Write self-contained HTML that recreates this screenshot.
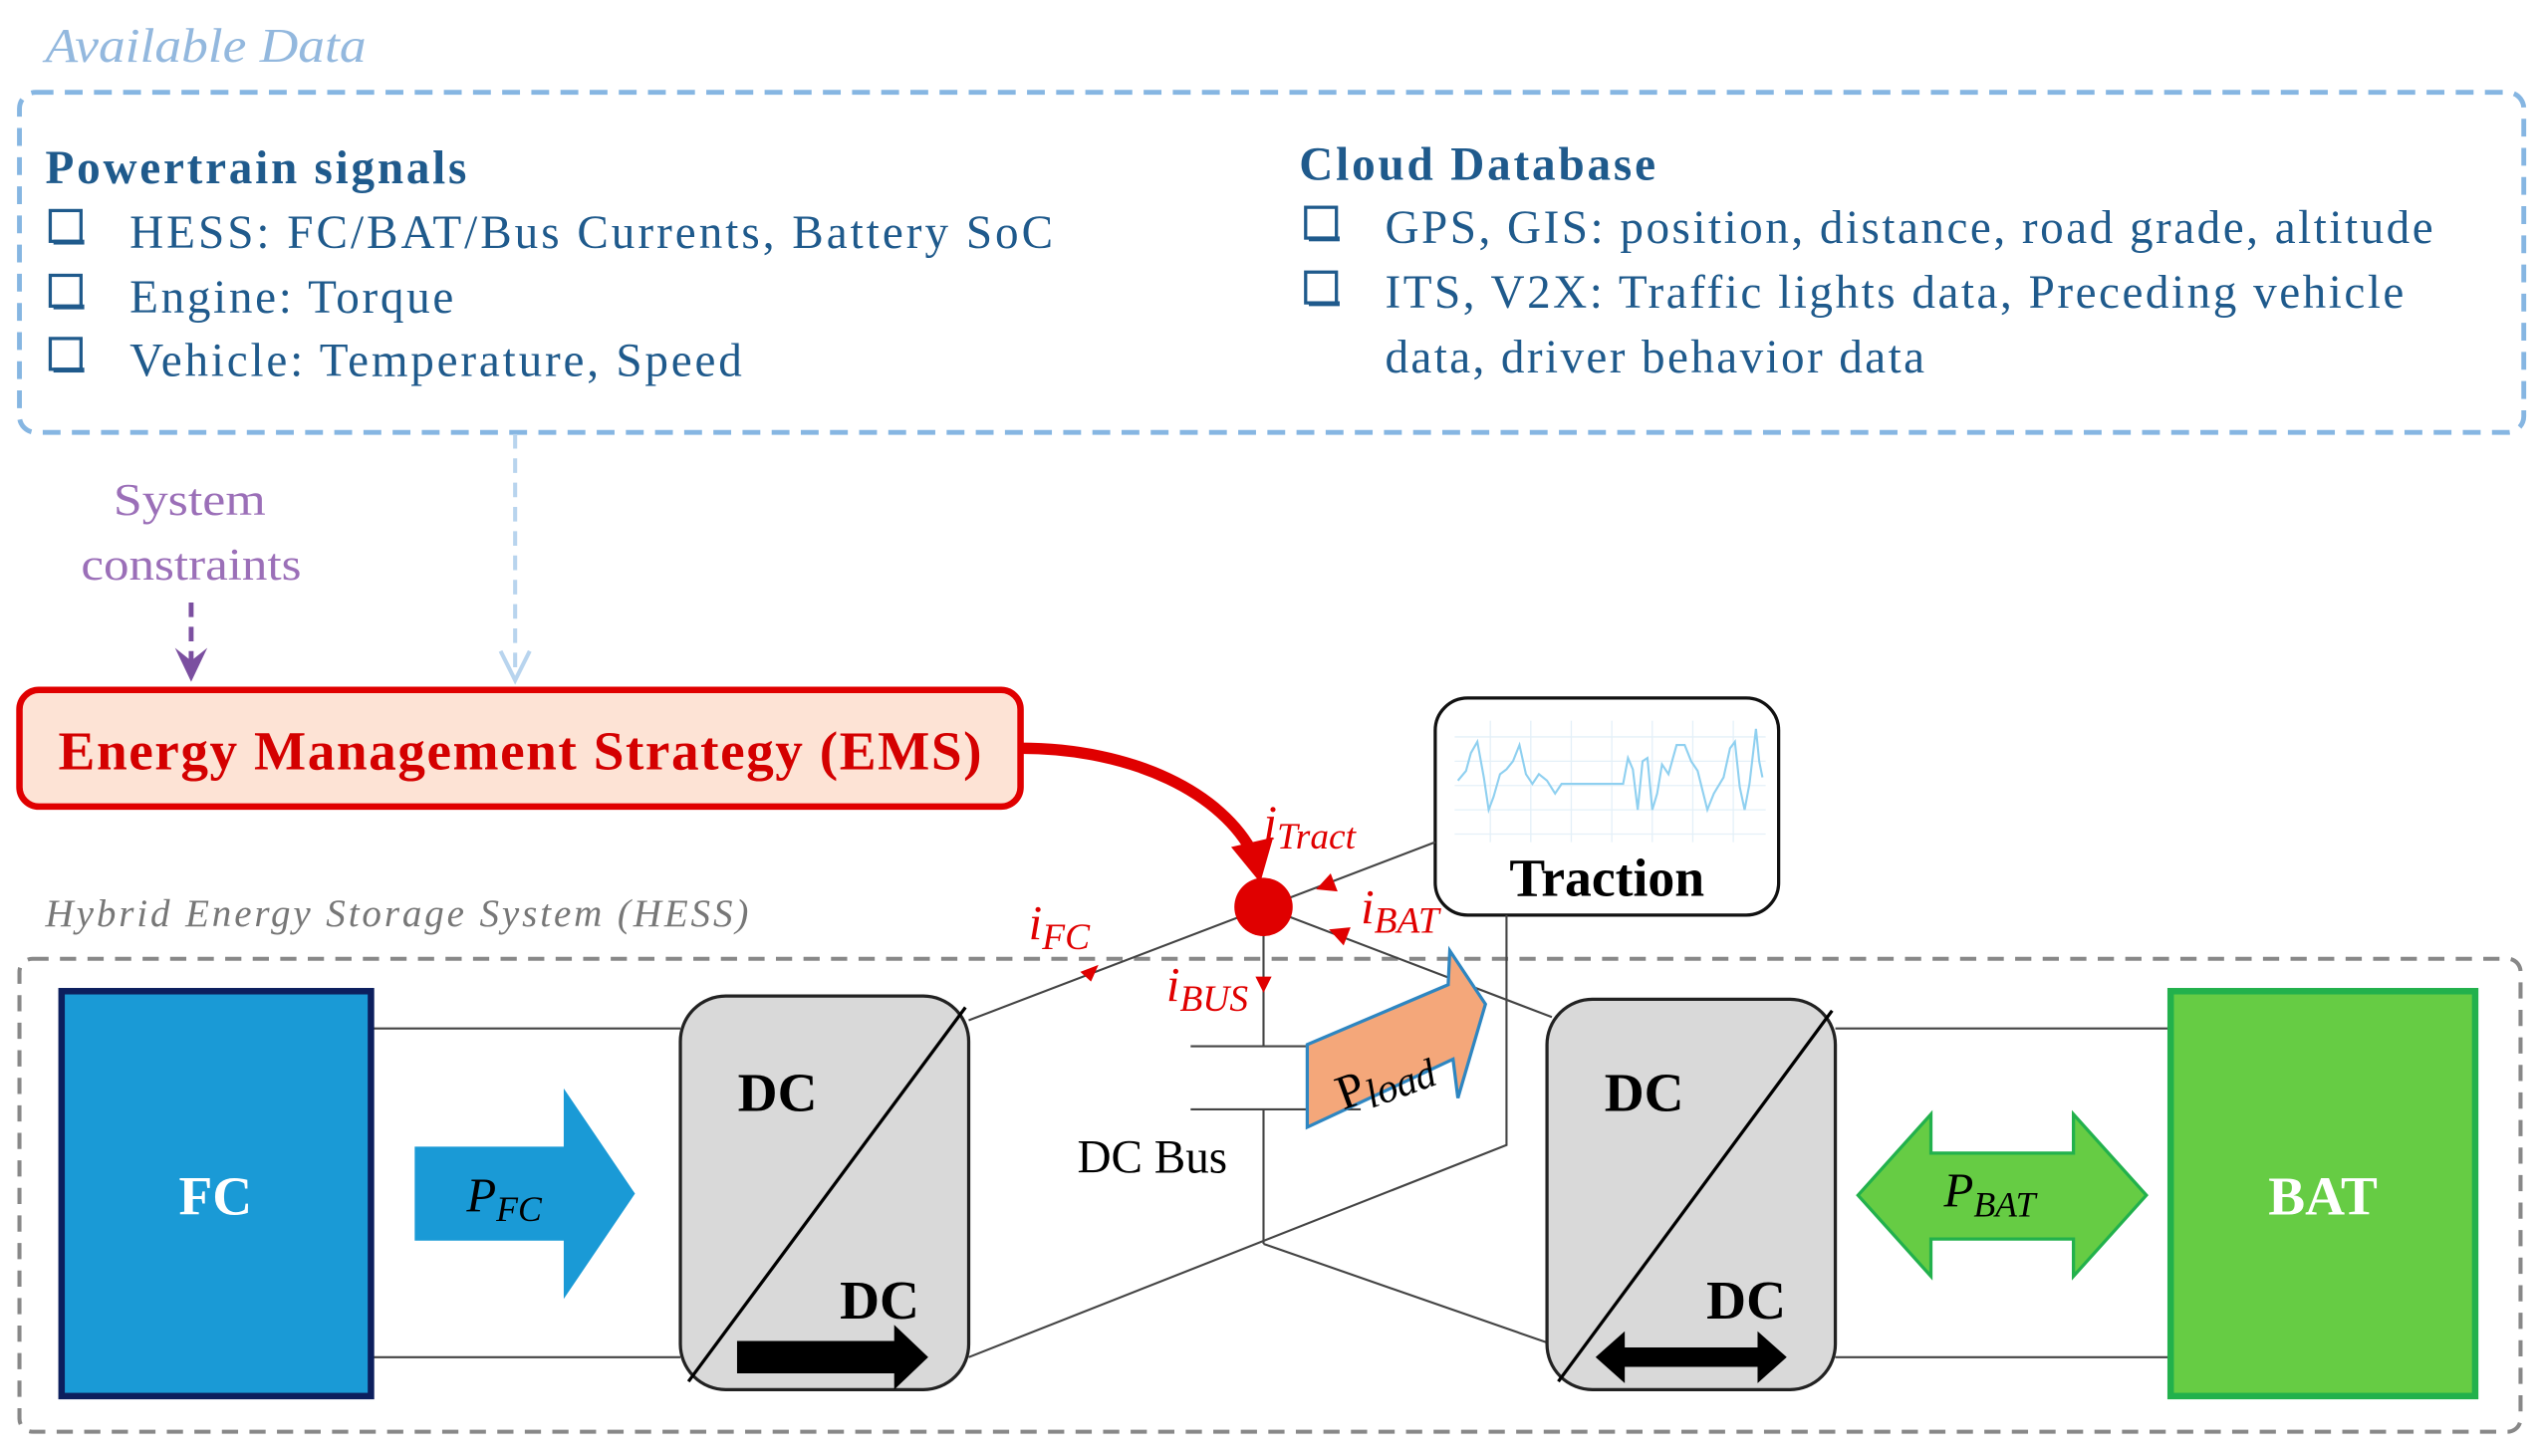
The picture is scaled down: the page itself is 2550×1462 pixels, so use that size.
<!DOCTYPE html>
<html><head><meta charset="utf-8"><style>html,body{margin:0;padding:0;background:#fff}svg{display:block}</style></head>
<body>
<svg width="2550" height="1462" viewBox="0 0 1568 899" xmlns="http://www.w3.org/2000/svg" font-family="Liberation Serif, serif">
<text x="28" y="38" font-size="30" font-style="italic" fill="#93b8de" textLength="198" lengthAdjust="spacingAndGlyphs">Available Data</text>
<rect x="12" y="57" width="1546" height="210" rx="10" fill="none" stroke="#86b6e2" stroke-width="3" stroke-dasharray="11,7"/>
<g fill="#1f5a8c" font-size="29">
<text x="28" y="113" font-weight="bold" textLength="260" lengthAdjust="spacing">Powertrain signals</text>
<text x="80" y="153" textLength="570" lengthAdjust="spacing">HESS: FC/BAT/Bus Currents, Battery SoC</text>
<text x="80" y="193" textLength="200" lengthAdjust="spacing">Engine: Torque</text>
<text x="80" y="232" textLength="378" lengthAdjust="spacing">Vehicle: Temperature, Speed</text>
<text x="802" y="111" font-weight="bold" textLength="220" lengthAdjust="spacing">Cloud Database</text>
<text x="855" y="150" textLength="647" lengthAdjust="spacing">GPS, GIS: position, distance, road grade, altitude</text>
<text x="855" y="190" textLength="629" lengthAdjust="spacing">ITS, V2X: Traffic lights data, Preceding vehicle</text>
<text x="855" y="230" textLength="333" lengthAdjust="spacing">data, driver behavior data</text>
</g>
<g fill="none" stroke="#1f5a8c" stroke-width="2">
<rect x="31" y="130" width="19" height="19"/><rect x="31" y="170" width="19" height="19"/><rect x="31" y="209" width="19" height="19"/>
<rect x="806" y="128" width="19" height="19"/><rect x="806" y="168" width="19" height="19"/>
</g>
<g fill="#1f5a8c"><rect x="33" y="148" width="19" height="3"/><rect x="33" y="188" width="19" height="3"/><rect x="33" y="227" width="19" height="3"/><rect x="808" y="146" width="19" height="3"/><rect x="808" y="186" width="19" height="3"/></g>
<line x1="318" y1="268" x2="318" y2="418" stroke="#b8d4ee" stroke-width="2.5" stroke-dasharray="9,6"/>
<path d="M309,402 L318,420 L327,402" fill="none" stroke="#b8d4ee" stroke-width="2.5"/>
<text x="70" y="318" font-size="28" fill="#9b6fb8" textLength="94" lengthAdjust="spacingAndGlyphs">System</text>
<text x="50" y="358" font-size="28" fill="#9b6fb8" textLength="136" lengthAdjust="spacingAndGlyphs">constraints</text>
<line x1="118" y1="372" x2="118" y2="415" stroke="#7b4fa0" stroke-width="3" stroke-dasharray="9,6"/>
<path d="M108,400 L118,421 L128,400 L118,408 Z" fill="#7b4fa0"/>
<rect x="12" y="426" width="618" height="72" rx="12" fill="#fde3d5" stroke="#e00000" stroke-width="4"/>
<text x="36" y="475" font-size="34" font-weight="bold" fill="#d40000" textLength="570" lengthAdjust="spacing">Energy Management Strategy (EMS)</text>
<path d="M630,462 C700,462 755,490 774,528" fill="none" stroke="#e00000" stroke-width="7"/>
<path d="M760,523 L778,545 L786,517 Z" fill="#e00000"/>
<text x="28" y="572" font-size="24" font-style="italic" fill="#777" textLength="434" lengthAdjust="spacing">Hybrid Energy Storage System (HESS)</text>
<rect x="12" y="592" width="1544" height="292" rx="8" fill="none" stroke="#888" stroke-width="2.5" stroke-dasharray="10,7"/>
<rect x="886" y="431" width="212" height="134" rx="20" fill="#fff" stroke="#111" stroke-width="2"/>
<g stroke="#e4f0f8" stroke-width="0.8">
<line x1="898" y1="455" x2="1090" y2="455"/><line x1="898" y1="470" x2="1090" y2="470"/><line x1="898" y1="485" x2="1090" y2="485"/><line x1="898" y1="500" x2="1090" y2="500"/><line x1="898" y1="515" x2="1090" y2="515"/>
<line x1="920" y1="445" x2="920" y2="520"/><line x1="945" y1="445" x2="945" y2="520"/><line x1="970" y1="445" x2="970" y2="520"/><line x1="995" y1="445" x2="995" y2="520"/><line x1="1020" y1="445" x2="1020" y2="520"/><line x1="1045" y1="445" x2="1045" y2="520"/><line x1="1070" y1="445" x2="1070" y2="520"/>
</g>
<polyline fill="none" stroke="#8fd0f0" stroke-width="1.3" points="900,482 905,476 908,465 912,458 916,480 919,500 922,492 926,478 930,475 934,470 938,460 942,478 946,484 950,478 955,482 960,490 964,484 1002,484 1005,468 1008,475 1011,500 1014,470 1017,468 1020,500 1023,490 1026,472 1030,478 1035,460 1040,460 1044,470 1048,476 1051,488 1054,500 1058,490 1064,480 1068,462 1071,458 1074,486 1077,500 1080,484 1084,450 1086,470 1088,480"/>
<text x="992" y="553" font-size="33" font-weight="bold" fill="#000" text-anchor="middle">Traction</text>
<g stroke="#444" stroke-width="1.3" fill="none">
<line x1="229" y1="635" x2="420" y2="635"/><line x1="229" y1="838" x2="420" y2="838"/>
<line x1="1133" y1="635" x2="1340" y2="635"/><line x1="1133" y1="838" x2="1340" y2="838"/>
<line x1="598" y1="630" x2="886" y2="520"/>
<line x1="780" y1="560" x2="958" y2="628"/>
<line x1="780" y1="560" x2="780" y2="646"/><line x1="780" y1="685" x2="780" y2="768"/>
<line x1="735" y1="646" x2="840" y2="646"/><line x1="735" y1="685" x2="840" y2="685"/>
<polyline points="930,565 930,707 598,838"/>
<line x1="780" y1="768" x2="958" y2="830"/>
</g>
<g stroke="none" fill="#e00000">
<path d="M668,598 L680,598 L672,606 Z" transform="rotate(-21 673 602)"/>
<path d="M812,547 L824,541 L824,553 Z" transform="rotate(-21 818 547)"/>
<path d="M820,576 L832,570 L832,582 Z" transform="rotate(21 826 576)"/>
<path d="M775,603 L785,603 L780,613 Z"/>
</g>
<circle cx="780" cy="560" r="18" fill="#e00000"/>
<g fill="#e00000" font-style="italic" font-size="30">
<text x="780" y="518">i<tspan font-size="23" dy="6">Tract</tspan></text>
<text x="635" y="580">i<tspan font-size="23" dy="6">FC</tspan></text>
<text x="840" y="570">i<tspan font-size="23" dy="6">BAT</tspan></text>
<text x="720" y="618">i<tspan font-size="23" dy="6">BUS</tspan></text>
</g>
<text x="665" y="724" font-size="29" fill="#000">DC Bus</text>
<polygon points="807,645 894,608 895,587 917,620 900,678 897,654 807,696" fill="#f4a77a" stroke="#2e86c1" stroke-width="2"/>
<text x="822" y="675" font-size="30" fill="#000" transform="rotate(-20 855 660)">P<tspan font-size="25" font-style="italic" dy="5">load</tspan></text>
<rect x="38" y="612" width="191" height="250" fill="#1a9ad6" stroke="#0c1f5e" stroke-width="4"/>
<text x="133" y="750" font-size="34" font-weight="bold" fill="#fff" text-anchor="middle">FC</text>
<polygon points="256,708 348,708 348,672 392,737 348,802 348,766 256,766" fill="#1a9ad6"/>
<text x="288" y="748" font-size="30" font-style="italic" fill="#000">P<tspan font-size="22" dy="6">FC</tspan></text>
<rect x="420" y="615" width="178" height="243" rx="28" fill="#d9d9d9" stroke="#222" stroke-width="2"/>
<line x1="596" y1="622" x2="425" y2="853" stroke="#000" stroke-width="2"/>
<text x="480" y="686" font-size="34" font-weight="bold" text-anchor="middle">DC</text>
<text x="543" y="814" font-size="34" font-weight="bold" text-anchor="middle">DC</text>
<polygon points="455,828 552,828 552,818 573,838 552,858 552,848 455,848" fill="#000"/>
<rect x="955" y="617" width="178" height="241" rx="28" fill="#d9d9d9" stroke="#222" stroke-width="2"/>
<line x1="1131" y1="624" x2="962" y2="853" stroke="#000" stroke-width="2"/>
<text x="1015" y="686" font-size="34" font-weight="bold" text-anchor="middle">DC</text>
<text x="1078" y="814" font-size="34" font-weight="bold" text-anchor="middle">DC</text>
<polygon points="985,838 1003,822 1003,832 1085,832 1085,822 1103,838 1085,854 1085,844 1003,844 1003,854" fill="#000"/>
<polygon points="1147,738 1192,688 1192,712 1280,712 1280,688 1325,738 1280,788 1280,765 1192,765 1192,788" fill="#66cc44" stroke="#22b14c" stroke-width="2"/>
<text x="1200" y="745" font-size="30" font-style="italic" fill="#000">P<tspan font-size="22" dy="6">BAT</tspan></text>
<rect x="1340" y="612" width="188" height="250" fill="#66cc44" stroke="#22b14c" stroke-width="4"/>
<text x="1434" y="750" font-size="34" font-weight="bold" fill="#fff" text-anchor="middle">BAT</text>
</svg>
</body></html>
